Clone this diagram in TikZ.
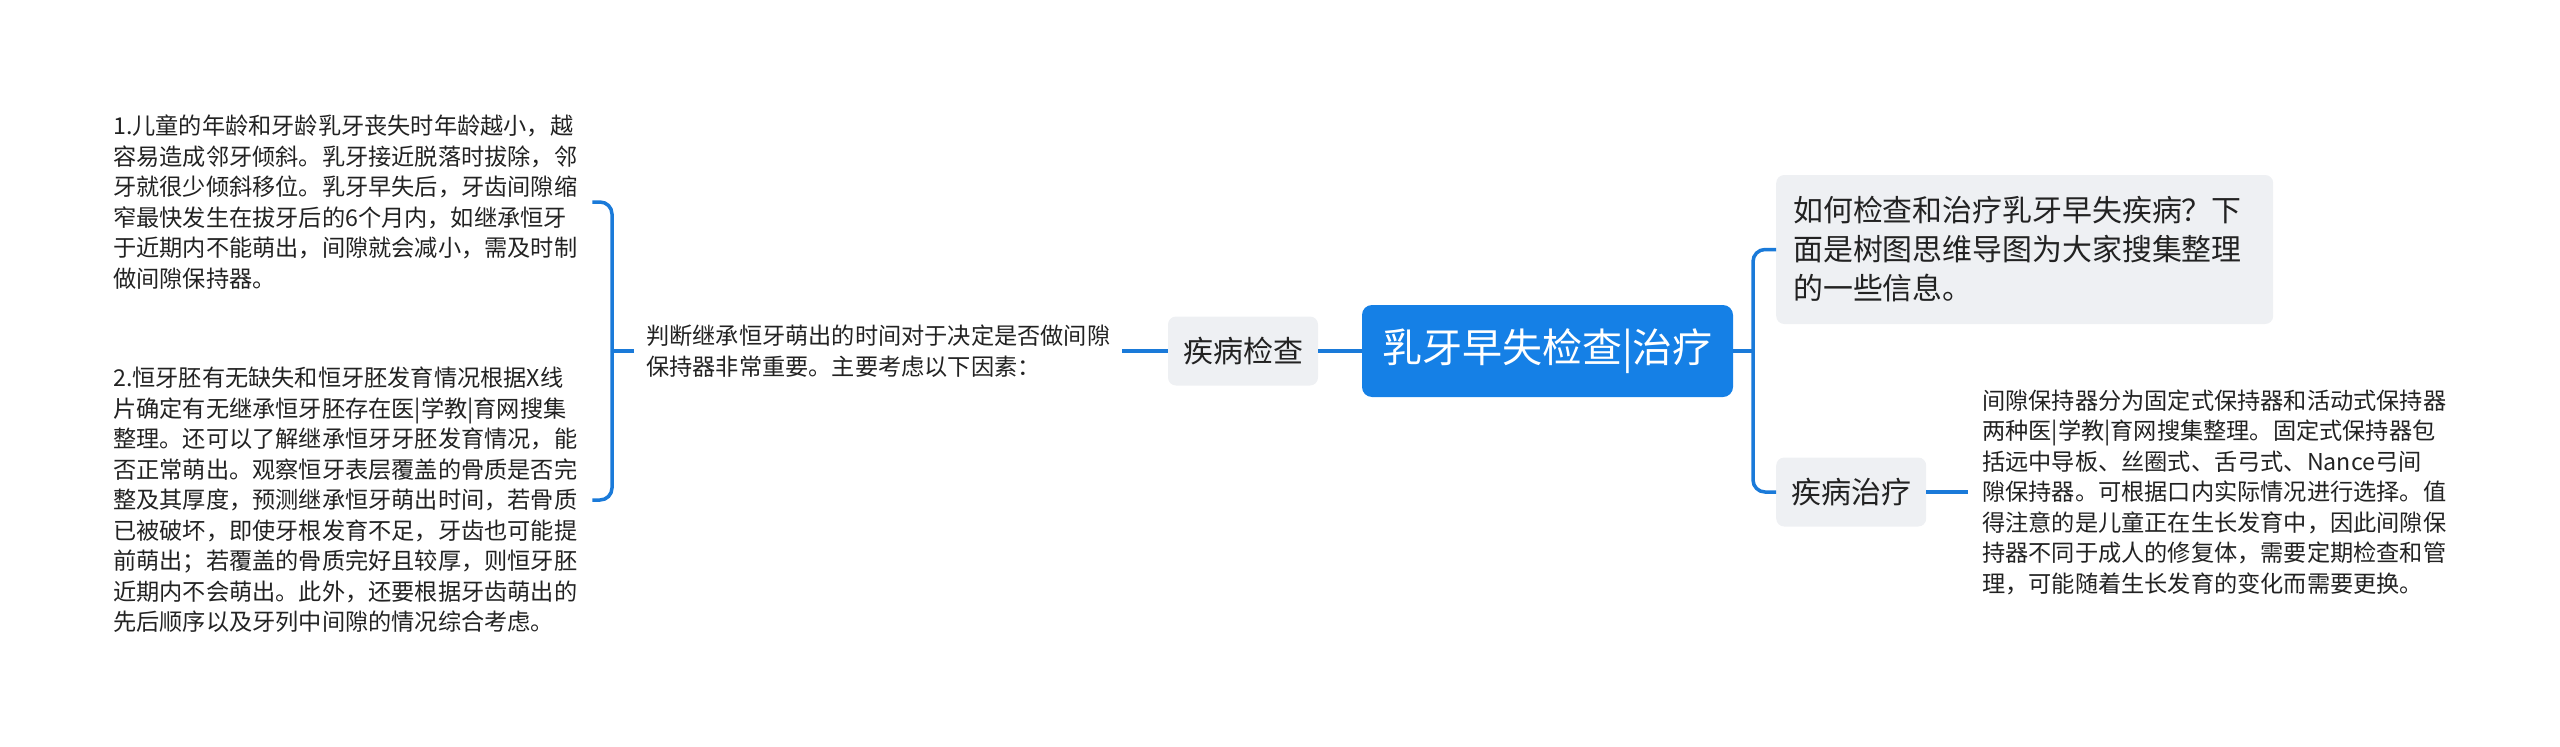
\documentclass[tikz,border=0pt]{standalone}
\usepackage{fontspec}
\setmainfont{Noto Sans CJK SC}
\definecolor{mblue}{HTML}{1580E6}
\definecolor{lblue}{HTML}{1A7AD9}
\definecolor{gbox}{HTML}{EEF0F3}
\definecolor{tdark}{HTML}{222222}
\tikzset{
  conn/.style={draw=lblue, line width=3.5pt, rounded corners=12pt},
  leaf/.style={inner sep=0pt, align=left, text=tdark, font=\fontsize{23.2}{30.5}\selectfont},
  topic/.style={fill=gbox, rounded corners=8pt, text=tdark, font=\fontsize{30}{40.5}\selectfont, inner sep=0pt, minimum height=69pt, minimum width=150pt},
  rootbox/.style={fill=mblue, rounded corners=10pt, text=white, font=\fontsize{40}{48}\selectfont, minimum height=92pt, minimum width=371pt, inner sep=0pt},
}
\begin{document}
\begin{tikzpicture}[x=1pt,y=-1pt]
\useasboundingbox (0,0) rectangle (2560,747);
% nodes
\node[rootbox] (root) at (1547.5,351) {乳牙早失检查|治疗};
\node[topic] (jc) at (1243,351) {疾病检查};
\node[topic, anchor=west] (zl) at (1776,492) {疾病治疗};
\node[topic, anchor=west, align=left, text width=463pt, minimum height=149pt, inner xsep=17pt,
      font=\fontsize{29.9}{39}\selectfont] (q) at (1776,249.5)
  {如何检查和治疗乳牙早失疾病？下\\面是树图思维导图为大家搜集整理\\的一些信息。};
\node[leaf, anchor=west] (mid) at (646,351)
  {判断继承恒牙萌出的时间对于决定是否做间隙\\保持器非常重要。主要考虑以下因素：};
\node[leaf, anchor=west] (t1) at (113,202)
  {1.儿童的年龄和牙龄乳牙丧失时年龄越小，越\\
   容易造成邻牙倾斜。乳牙接近脱落时拔除，邻\\
   牙就很少倾斜移位。乳牙早失后，牙齿间隙缩\\
   窄最快发生在拔牙后的6个月内，如继承恒牙\\
   于近期内不能萌出，间隙就会减小，需及时制\\
   做间隙保持器。};
\node[leaf, anchor=west] (t2) at (113,500)
  {2.恒牙胚有无缺失和恒牙胚发育情况根据X线\\
   片确定有无继承恒牙胚存在医|学教|育网搜集\\
   整理。还可以了解继承恒牙牙胚发育情况，能\\
   否正常萌出。观察恒牙表层覆盖的骨质是否完\\
   整及其厚度，预测继承恒牙萌出时间，若骨质\\
   已被破坏，即使牙根发育不足，牙齿也可能提\\
   前萌出；若覆盖的骨质完好且较厚，则恒牙胚\\
   近期内不会萌出。此外，还要根据牙齿萌出的\\
   先后顺序以及牙列中间隙的情况综合考虑。};
\node[leaf, anchor=west] (br) at (1982,492)
  {间隙保持器分为固定式保持器和活动式保持器\\
   两种医|学教|育网搜集整理。固定式保持器包\\
   括远中导板、丝圈式、舌弓式、Nance弓间\\
   隙保持器。可根据口内实际情况进行选择。值\\
   得注意的是儿童正在生长发育中，因此间隙保\\
   持器不同于成人的修复体，需要定期检查和管\\
   理，可能随着生长发育的变化而需要更换。};
% fork points
\coordinate (rf) at (1753,351);
\coordinate (lf) at (612,351);
% connectors right
\draw[conn] (root.east) -- (rf);
\draw[conn] (rf) |- (q.west);
\draw[conn] (rf) |- (zl.west);
\draw[conn] (zl.east) -- ([xshift=-14pt]br.west);
% connectors left
\draw[conn] (root.west) -- (jc.east);
\draw[conn] (jc.west) -- ([xshift=12pt]mid.east);
\draw[conn] ([xshift=-12pt]mid.west) -- (lf);
\draw[conn] (lf) |- ([xshift=15pt]t1.east);
\draw[conn] (lf) |- ([xshift=15pt]t2.east);
\end{tikzpicture}
\end{document}
